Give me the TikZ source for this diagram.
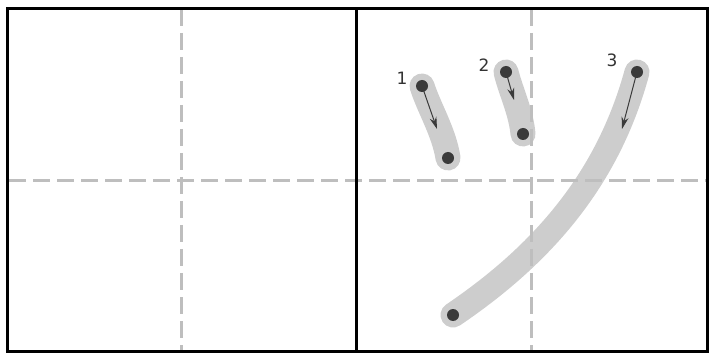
\documentclass[tikz,border=0pt]{standalone}
\usepackage{fontspec}
\newfontfamily\labelfont{DejaVu Sans}
\usetikzlibrary{arrows.meta}
\definecolor{gridgray}{RGB}{190,190,190}
\definecolor{bandgray}{RGB}{205,205,205}
\definecolor{dotgray}{RGB}{58,58,58}
\tikzset{
  gridline/.style={gridgray, line width=3pt, dash pattern=on 17pt off 7pt},
  band/.style={bandgray, line width=25pt, line cap=round},
  dotnode/.style={circle, fill=dotgray, inner sep=0pt, minimum size=12pt},
  dirarrow/.style={-{Stealth[length=12pt,width=7pt]}, dotgray, line width=1pt},
  numlabel/.style={font=\labelfont\fontsize{17}{17}\selectfont, text=black!80},
}

\begin{document}
\begin{tikzpicture}[x=1pt,y=-1pt]
  \useasboundingbox (0,0) rectangle (709,355);

  % stroke end points
  \coordinate (s1a) at (422,86);
  \coordinate (s1b) at (448,158);
  \coordinate (s2a) at (506,72);
  \coordinate (s2b) at (523,134);
  \coordinate (s3a) at (637,72);
  \coordinate (s3b) at (453,315);

  % brush bands
  \draw[band] (s1a) .. controls (429,108) and (444,132) .. (s1b);
  \draw[band] (s2a) .. controls (511,92) and (521,112) .. (s2b);
  \draw[band] (s3a) .. controls (608,179) and (543,254) .. (s3b);

  % guide lines
  \draw[gridline] (181,9) -- (181,351);
  \draw[gridline] (531,9) -- (531,351);
  \draw[gridline] (9,181) -- (707,181);

  % stroke dots
  \node[dotnode] (d1a) at (s1a) {};
  \node[dotnode] (d1b) at (s1b) {};
  \node[dotnode] (d2a) at (s2a) {};
  \node[dotnode] (d2b) at (s2b) {};
  \node[dotnode] (d3a) at (s3a) {};
  \node[dotnode] (d3b) at (s3b) {};

  % direction arrows
  \coordinate (a1) at (437,129);
  \coordinate (a2) at (514,100);
  \coordinate (a3) at (622,129);
  \draw[dirarrow] (d1a.center) -- (a1);
  \draw[dirarrow] (d2a.center) -- (a2);
  \draw[dirarrow] (d3a.center) -- (a3);

  % stroke numbers
  \node[numlabel] (n1) at (402,78) {1};
  \node[numlabel] (n2) at (484,65) {2};
  \node[numlabel] (n3) at (612,60) {3};

  % frame
  \draw[line width=3pt] (7,9) rectangle (707,351);
  \draw[line width=3pt] (356,9) -- (356,351);
\end{tikzpicture}
\end{document}
